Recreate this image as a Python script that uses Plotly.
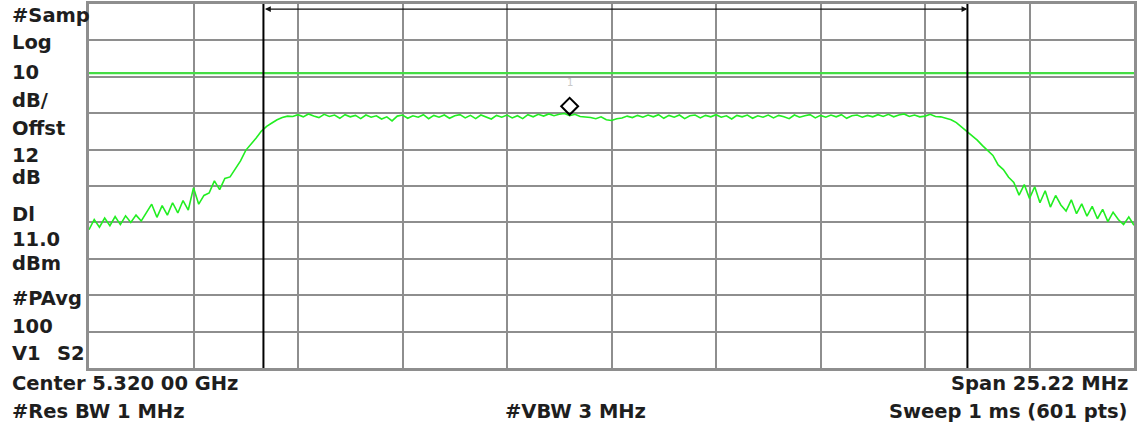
import numpy as np
import plotly.graph_objects as go

# ---- instrument settings ----
center_mhz = 5320.0
span_mhz = 25.22
ref_level = 30.0
db_per_div = 10.0
display_line = 11.0
marker_lines_mhz = [5311.60, 5328.59]
marker1_mhz = 5318.99
marker1_dbm = 1.9

# ---- trace values (dBm) ----
trace_left = [
    -32.0, -29.2, -31.3, -28.8, -30.9, -28.4, -30.6, -28.2, -30.0, -28.0,
    -29.6, -27.2, -25.0, -28.6, -25.4, -28.0, -24.6, -27.4, -24.0, -26.6,
    -20.5, -25.0, -22.6, -21.9, -18.6, -21.0, -17.9, -17.5, -15.2, -13.1,
    -10.2, -8.6, -6.8, -4.9, -3.6, -2.7, -1.8, -1.2, -0.8, -0.9,
]
trace_mid = [
    -0.4, -1.0, -0.2, -0.8, -1.2, -0.3, -0.9, -0.5, -1.4, -0.4,
    -1.0, -0.6, -1.5, -0.5, -1.1, -0.7, -1.6, -1.0, -2.1, -0.8,
    -0.5, -1.4, -0.7, -1.1, -0.4, -1.5, -0.6, -1.1, -0.5, -1.4,
    -0.7, -0.4, -1.3, -0.6, -1.5, -0.5, -1.0, -1.6, -0.6, -1.1,
    -0.5, -1.3, -0.7, -1.5, -0.4, -1.0, -0.3, -0.8, -0.2, -0.7,
    -0.3, -0.1, -0.7, -0.3, -0.9, -1.0, -1.2, -1.5, -1.0, -1.8,
    -2.0, -1.5, -1.3, -0.8, -1.2, -0.6, -1.1, -0.5, -1.0, -0.4,
    -1.4, -0.6, -1.1, -0.5, -1.5, -0.7, -0.5, -1.3, -0.6, -1.0,
    -0.4, -1.1, -0.7, -1.6, -0.6, -1.0, -0.5, -1.4, -0.7, -1.1,
    -0.5, -1.3, -0.6, -1.0, -1.5, -0.5, -1.1, -0.7, -0.4, -1.3,
    -0.6, -1.1, -0.5, -1.0, -0.4, -1.4, -0.7, -0.5, -1.1, -0.6,
    -1.0, -0.4, -0.9, -0.3, -1.0, -0.5, -0.2, -0.9, -0.5, -1.0,
]
trace_right = [
    -0.8, -0.3, -0.9, -1.0, -1.3, -1.8, -2.6, -3.8, -4.8, -6.0,
    -7.4, -8.9, -10.3, -11.6, -14.2, -15.5, -17.6, -19.0, -22.5, -19.6,
    -23.4, -20.2, -24.6, -21.3, -25.8, -22.6, -25.2, -26.9, -23.8, -27.6,
    -24.9, -28.3, -25.6, -29.0, -26.4, -29.8, -27.2, -29.2, -30.6, -28.5,
    -30.8,
]
trace_dbm = trace_left + trace_mid + trace_right

# ---- annotation texts ----
left_labels = ["#Samp", "Log", "10", "dB/", "Offst", "12", "dB", "Dl",
               "11.0", "dBm", "#PAvg", "100", "V1"]
left_label_py = [13, 40, 70, 98, 127, 154, 176, 213, 238, 263, 298, 326, 353]
bottom_left = ["Center 5.320 00 GHz", "#Res BW 1 MHz"]
bottom_mid = "#VBW 3 MHz"
bottom_right = ["Span 25.22 MHz", "Sweep 1 ms (601 pts)"]

f_start = center_mhz - span_mhz / 2
f_stop = center_mhz + span_mhz / 2
freqs = np.linspace(f_start, f_stop, len(trace_dbm))

W, H = 1138, 432
L, R, T, B = 89, 1, 1, 64
plot_h = H - T - B


def py2paper(py):
    return (H - B - py) / plot_h


def px2paper(px):
    return (px - L) / (W - L - R)


FONT = dict(family="DejaVu Sans", size=19.5, color="#1e1e1e", weight="bold")

fig = go.Figure()
fig.add_trace(go.Scatter(x=freqs, y=trace_dbm, mode="lines",
                         line=dict(color="#22ee22", width=1.6),
                         hoverinfo="skip", showlegend=False))
fig.add_trace(go.Scatter(x=[marker1_mhz], y=[marker1_dbm], mode="markers",
                         marker=dict(symbol="diamond-open", size=13,
                                     color="black", line=dict(width=2, color="black")),
                         showlegend=False, hoverinfo="skip"))

# display line
fig.add_shape(type="line", xref="paper", x0=0, x1=1, yref="y",
              y0=display_line, y1=display_line,
              line=dict(color="#44dd44", width=2.2))
# marker vertical lines
for fx in marker_lines_mhz:
    fig.add_shape(type="line", xref="x", x0=fx, x1=fx, yref="paper", y0=0, y1=1,
                  line=dict(color="black", width=2))

ann = []
# double arrow between markers
ann.append(dict(x=marker_lines_mhz[1], y=ref_level - 1.4, xref="x", yref="y",
                ax=marker_lines_mhz[0], ay=ref_level - 1.4, axref="x", ayref="y",
                text="", showarrow=True, arrowhead=2, arrowside="end+start",
                arrowsize=0.9, arrowwidth=1.3, arrowcolor="#111"))
# marker number
ann.append(dict(x=marker1_mhz, y=ref_level - 79 / 3.67, xref="x", yref="y",
                text="1", showarrow=False,
                font=dict(family="DejaVu Sans", size=10, color="#c8c8c8")))

for t, py in zip(left_labels, left_label_py):
    ann.append(dict(x=px2paper(10), y=py2paper(py), xref="paper", yref="paper",
                    text=t, showarrow=False, xanchor="left", yanchor="middle", font=FONT))
ann.append(dict(x=px2paper(87), y=py2paper(353), xref="paper", yref="paper",
                text="S2", showarrow=False, xanchor="right", yanchor="middle", font=FONT))
for t, py in zip(bottom_left, [384, 412]):
    ann.append(dict(x=px2paper(10), y=py2paper(py), xref="paper", yref="paper",
                    text=t, showarrow=False, xanchor="left", yanchor="middle", font=FONT))
ann.append(dict(x=px2paper(577), y=py2paper(412), xref="paper", yref="paper",
                text=bottom_mid, showarrow=False, xanchor="center", yanchor="middle", font=FONT))
for t, py in zip(bottom_right, [384, 412]):
    ann.append(dict(x=px2paper(1133), y=py2paper(py), xref="paper", yref="paper",
                    text=t, showarrow=False, xanchor="right", yanchor="middle", font=FONT))

grid_col = "#8e8e8e"
fig.update_layout(
    width=W, height=H,
    margin=dict(l=L, r=R, t=T, b=B),
    paper_bgcolor="white", plot_bgcolor="white",
    annotations=ann,
    xaxis=dict(range=[f_start, f_stop], tick0=f_start, dtick=span_mhz / 10,
               showticklabels=False, ticks="", showgrid=True, gridcolor=grid_col,
               gridwidth=2, zeroline=False, showline=True, mirror=True,
               linecolor=grid_col, linewidth=3),
    yaxis=dict(range=[ref_level - 10 * db_per_div, ref_level], tick0=ref_level,
               dtick=db_per_div, showticklabels=False, ticks="", showgrid=True,
               gridcolor=grid_col, gridwidth=2, zeroline=False, showline=True,
               mirror=True, linecolor=grid_col, linewidth=3),
)

fig.write_html("out.html", config={"displayModeBar": False},
               post_script="document.body.style.margin='0px';document.body.style.overflow='hidden';")
